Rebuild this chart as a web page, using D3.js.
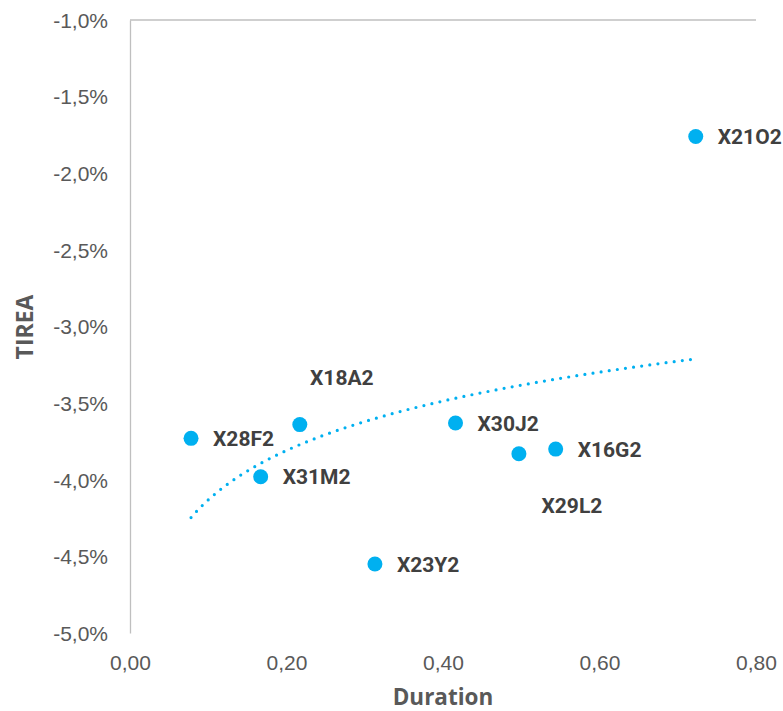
<!DOCTYPE html>
<html>
<head>
<meta charset="utf-8">
<script src="https://cdn.jsdelivr.net/npm/d3@7"></script>
<style>
  html, body { margin: 0; padding: 0; background: #fff; }
  svg { display: block; }
</style>
</head>
<body>
<svg id="chart" width="783" height="711"></svg>
<script>
// Bond tickers, modified duration and TIREA (%)
const tickers  = ["X28F2", "X18A2", "X31M2", "X30J2", "X29L2", "X16G2", "X21O2", "X23Y2"];
const duration = [0.078, 0.217, 0.167, 0.416, 0.497, 0.544, 0.723, 0.313];
const tirea    = [-3.73, -3.64, -3.98, -3.63, -3.83, -3.80, -1.76, -4.55];

const xTicks = [0, 0.2, 0.4, 0.6, 0.8];
const yTicks = [-5, -4.5, -4, -3.5, -3, -2.5, -2, -1.5, -1];

(function draw() {
  const svg = d3.select("#chart");
  const mLeft = 130, mRight = 756, mTop = 20, mBottom = 633;

  const x = d3.scaleLinear().domain([0, 0.8]).range([mLeft, mRight]);
  const y = d3.scaleLinear().domain([-5, -1]).range([mBottom, mTop]);

  // comma decimals, plain hyphen for negatives
  const fmtX = d => d.toFixed(2).replace(".", ",");
  const fmtY = d => d.toFixed(1).replace(".", ",") + "%";

  const axisColor = "#BFBFBF";
  const tickColor = "#595959";
  const tickFont = "'Liberation Sans', Arial, sans-serif";
  const titleFont = "'Open Sans', 'Noto Sans', sans-serif";
  const labelFont = "Roboto, 'Open Sans', sans-serif";

  // Vertical axis (left)
  const yAxis = svg.append("g")
    .attr("transform", `translate(${mLeft},0)`)
    .call(d3.axisLeft(y).tickValues(yTicks).tickFormat(fmtY).tickSize(0).tickPadding(22));
  yAxis.select(".domain").attr("stroke", axisColor).attr("stroke-width", 1.3);
  yAxis.selectAll("text")
    .attr("fill", tickColor).attr("font-size", 21).attr("font-family", tickFont)
    .attr("dy", "0.35em");

  // Horizontal axis line crosses at the top (-1,0%); labels sit at the bottom
  svg.append("line")
    .attr("x1", mLeft).attr("x2", mRight)
    .attr("y1", y(-1)).attr("y2", y(-1))
    .attr("stroke", axisColor).attr("stroke-width", 1.3);

  const xAxis = svg.append("g")
    .attr("transform", `translate(0,${mBottom})`)
    .call(d3.axisBottom(x).tickValues(xTicks).tickFormat(fmtX).tickSize(0).tickPadding(22));
  xAxis.select(".domain").remove();
  xAxis.selectAll("text")
    .attr("fill", tickColor).attr("font-size", 21).attr("font-family", tickFont);

  // Axis titles
  svg.append("text")
    .attr("x", 443).attr("y", 705)
    .attr("text-anchor", "middle")
    .attr("font-family", titleFont).attr("font-weight", 700).attr("font-size", 22.5)
    .attr("fill", tickColor)
    .text("Duration");

  svg.append("text")
    .attr("transform", `translate(33,327) rotate(-90)`)
    .attr("text-anchor", "middle")
    .attr("font-family", titleFont).attr("font-weight", 700).attr("font-size", 23)
    .attr("fill", tickColor)
    .text("TIREA");

  // Logarithmic trendline: least squares fit of TIREA on ln(duration)
  const lx = duration.map(Math.log);
  const mx = d3.mean(lx), my = d3.mean(tirea);
  const b = d3.sum(lx, (v, i) => (v - mx) * (tirea[i] - my)) / d3.sum(lx, v => (v - mx) ** 2);
  const a = my - b * mx;
  const [xMin, xMax] = d3.extent(duration);
  const trend = d3.range(0, 101).map(i => {
    const xv = xMin + (xMax - xMin) * i / 100;
    return [xv, a + b * Math.log(xv)];
  });
  svg.append("path")
    .datum(trend)
    .attr("d", d3.line().x(d => x(d[0])).y(d => y(d[1])))
    .attr("fill", "none")
    .attr("stroke", "#00B0F0")
    .attr("stroke-width", 3.2)
    .attr("stroke-linecap", "round")
    .attr("stroke-dasharray", "0 8.2");

  // Points
  const pts = tickers.map((t, i) => ({ t, x: duration[i], y: tirea[i] }));
  svg.append("g").selectAll("circle")
    .data(pts).join("circle")
    .attr("cx", d => x(d.x)).attr("cy", d => y(d.y))
    .attr("r", 7.5)
    .attr("fill", "#00B0F0");

  // Data labels: to the right of the dot, except two moved clear of neighbours
  const moved = {
    X18A2: { dx: 42, dy: -47 },
    X29L2: { dx: 53, dy: 52 }
  };
  svg.append("g").selectAll("text")
    .data(pts).join("text")
    .attr("x", d => moved[d.t] ? x(d.x) + moved[d.t].dx : x(d.x) + 22)
    .attr("y", d => moved[d.t] ? y(d.y) + moved[d.t].dy : y(d.y))
    .attr("dy", "0.36em")
    .attr("text-anchor", d => moved[d.t] ? "middle" : "start")
    .attr("font-family", labelFont).attr("font-weight", 700).attr("font-size", 21)
    .attr("fill", "#404040")
    .text(d => d.t);
})();
</script>
</body>
</html>
